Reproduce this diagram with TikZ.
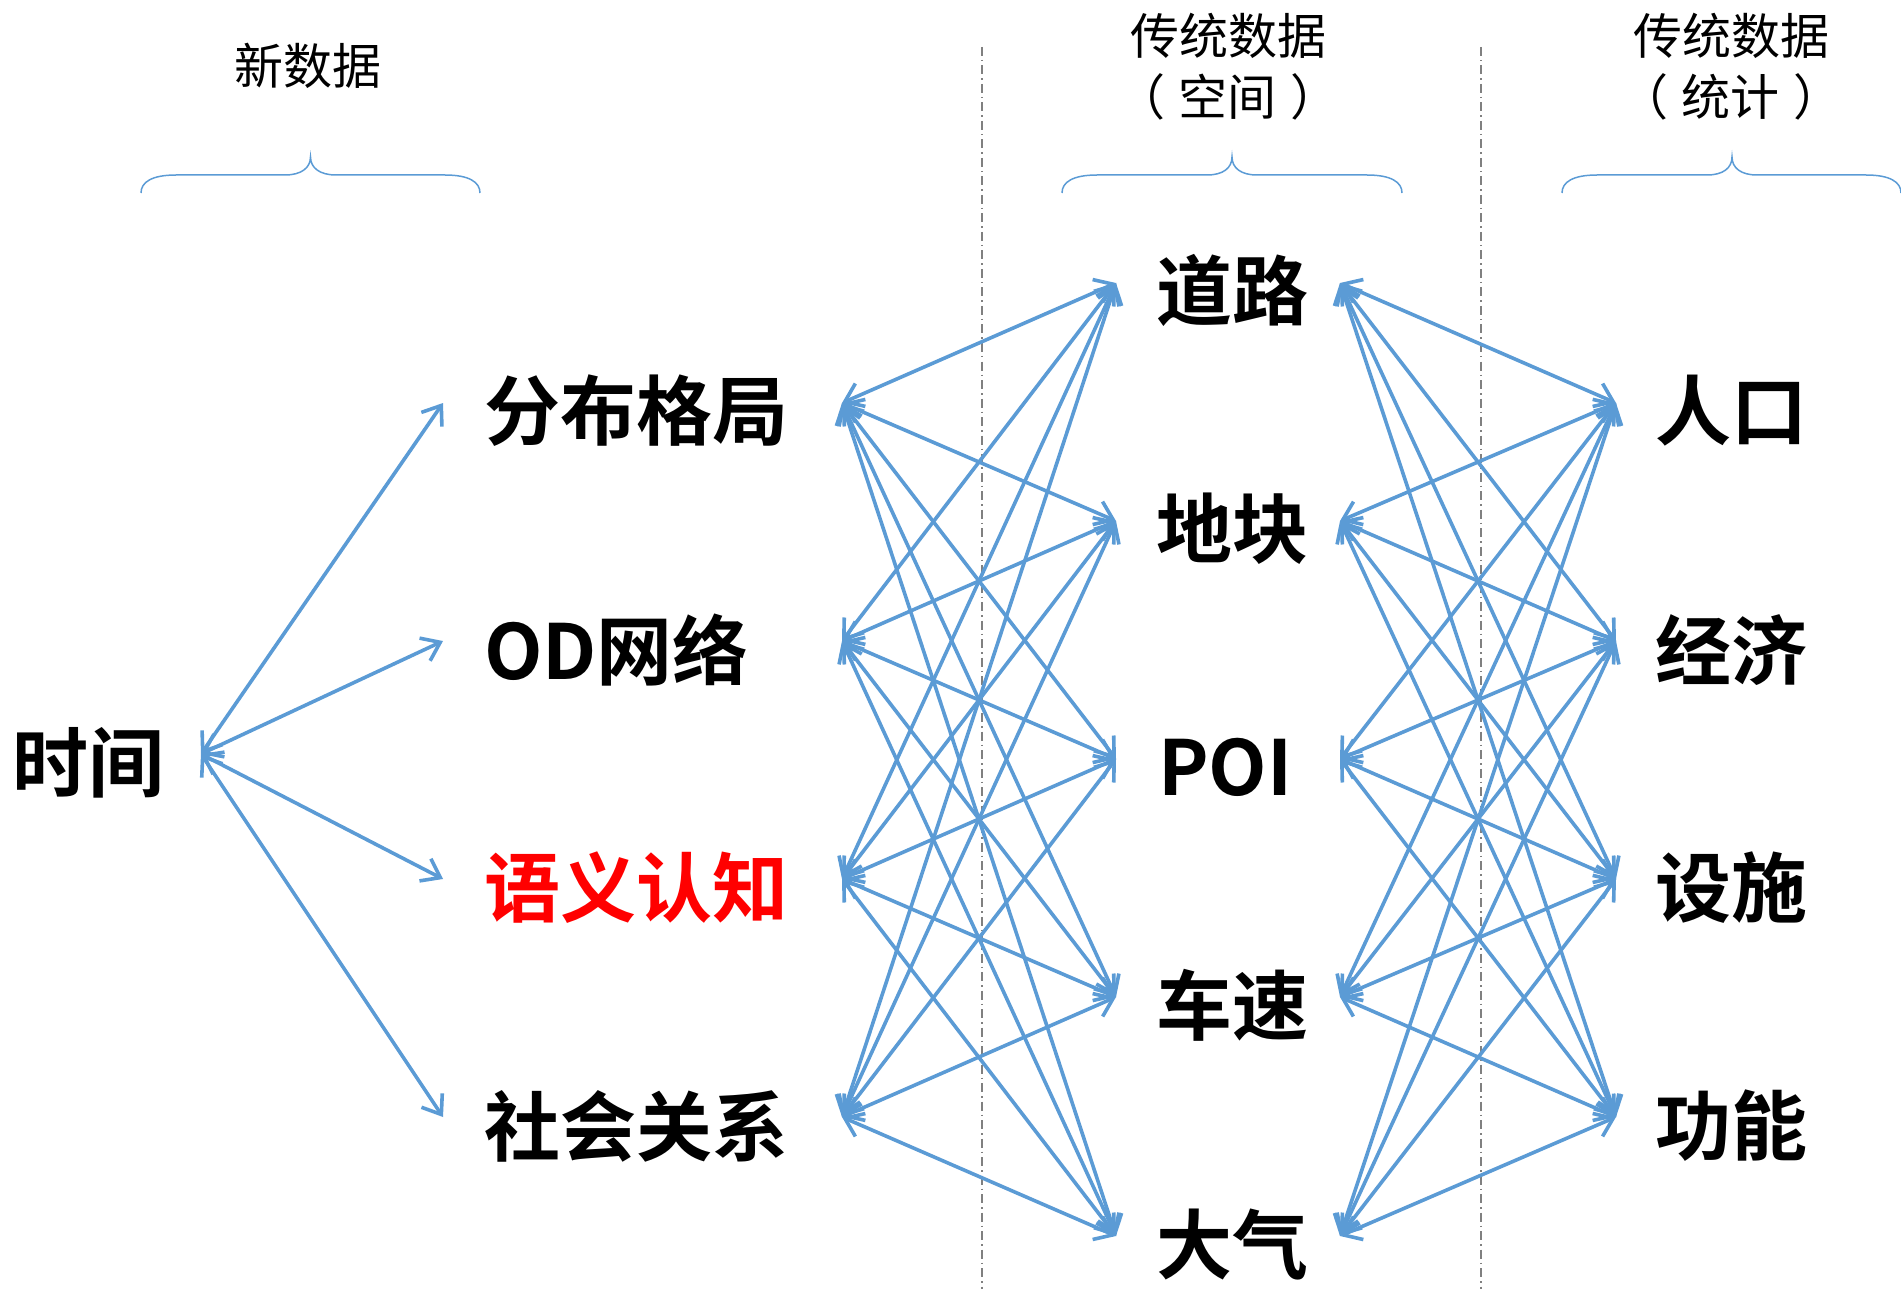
\documentclass[tikz,border=0pt]{standalone}
\usepackage{fontspec}
\setmainfont{Noto Sans CJK SC}[BoldFont={Noto Sans CJK SC Bold}]
\usetikzlibrary{arrows.meta}
\definecolor{lblue}{HTML}{5B9BD5}
\definecolor{lred}{HTML}{FF0000}
\definecolor{dgray}{HTML}{808080}
\begin{document}
\begin{tikzpicture}[x=1pt,y=-1pt,
  >={Straight Barb[length=17pt,width=25pt]},
  link/.style={<->, draw=lblue, line width=3.6pt},
  big/.style={font=\fontsize{76}{80}\selectfont\bfseries, inner sep=0pt, anchor=west},
  head/.style={font=\fontsize{49}{61}\selectfont, align=center, inner sep=0pt},
  brc/.style={draw=lblue, line width=1.5pt},
  sepline/.style={draw=dgray, line width=1.2pt, dash pattern=on 9pt off 4pt on 1.5pt off 4pt}]
\useasboundingbox (0,0) rectangle (1901,1289);

% separators
\draw[sepline] (982,47) -- (982,1289);
\draw[sepline] (1481,47) -- (1481,1289);

% headers
\node[head] (h1) at (308,66) {新数据};
\node[head] (h2) at (1228,67) {传统数据\\（\hspace{14pt}空间\hspace{14pt}）};
\node[head] (h3) at (1731,67) {传统数据\\（\hspace{14pt}统计\hspace{14pt}）};

% braces
\draw[brc] (141,193) .. controls (141,182) and (152,175) .. (176,175) -- (285,175)
  .. controls (301,175) and (310.5,168) .. (310.5,157)
  .. controls (310.5,168) and (320,175) .. (336,175) -- (445,175)
  .. controls (469,175) and (480,182) .. (480,193);
\draw[brc] (1062,193) .. controls (1062,182) and (1073,175) .. (1097,175) -- (1207,175)
  .. controls (1223,175) and (1232,168) .. (1232,157)
  .. controls (1232,168) and (1241,175) .. (1257,175) -- (1367,175)
  .. controls (1391,175) and (1402,182) .. (1402,193);
\draw[brc] (1562,193) .. controls (1562,182) and (1573,175) .. (1597,175) -- (1707,175)
  .. controls (1723,175) and (1732,168) .. (1732,157)
  .. controls (1732,168) and (1741,175) .. (1757,175) -- (1866,175)
  .. controls (1890,175) and (1901,182) .. (1901,193);

% labels
\node[big] (sj) at (12,763) {时间};
\node[big] (fb) at (484,411) {分布格局};
\node[big] (od) at (484,650) {OD网络};
\node[big, text=lred] (yy) at (484,888) {语义认知};
\node[big] (sh) at (484,1126) {社会关系};
\node[big] (dl) at (1156,290) {道路};
\node[big] (dk) at (1156,529) {地块};
\node[big] (poi) at (1158,767) {POI};
\node[big] (cs) at (1156,1005) {车速};
\node[big] (dq) at (1156,1244) {大气};
\node[big] (rk) at (1655,411) {人口};
\node[big] (jj) at (1655,650) {经济};
\node[big] (ss) at (1655,888) {设施};
\node[big] (gn) at (1655,1126) {功能};

% ports
\coordinate (sj-e) at (201,754);
\coordinate (fb-w) at (443,403);
\coordinate (od-w) at (443,641);
\coordinate (yy-w) at (443,879);
\coordinate (sh-w) at (443,1117);
\coordinate (fb-e) at (842,403);
\coordinate (od-e) at (842,641);
\coordinate (yy-e) at (842,879);
\coordinate (sh-e) at (842,1117);
\coordinate (dl-w) at (1116,283);
\coordinate (dk-w) at (1116,521);
\coordinate (poi-w) at (1116,759);
\coordinate (cs-w) at (1116,997);
\coordinate (dq-w) at (1116,1236);
\coordinate (dl-e) at (1340,283);
\coordinate (dk-e) at (1340,521);
\coordinate (poi-e) at (1340,759);
\coordinate (cs-e) at (1340,997);
\coordinate (dq-e) at (1340,1236);
\coordinate (rk-w) at (1616,403);
\coordinate (jj-w) at (1616,641);
\coordinate (ss-w) at (1616,879);
\coordinate (gn-w) at (1616,1117);

% connectors
\foreach \a in {fb,od,yy,sh}{\draw[link] (sj-e) -- (\a-w);}
\foreach \a in {fb,od,yy,sh}{\foreach \b in {dl,dk,poi,cs,dq}{\draw[link] (\a-e) -- (\b-w);}}
\foreach \b in {dl,dk,poi,cs,dq}{\foreach \c in {rk,jj,ss,gn}{\draw[link] (\b-e) -- (\c-w);}}
\end{tikzpicture}
\end{document}
